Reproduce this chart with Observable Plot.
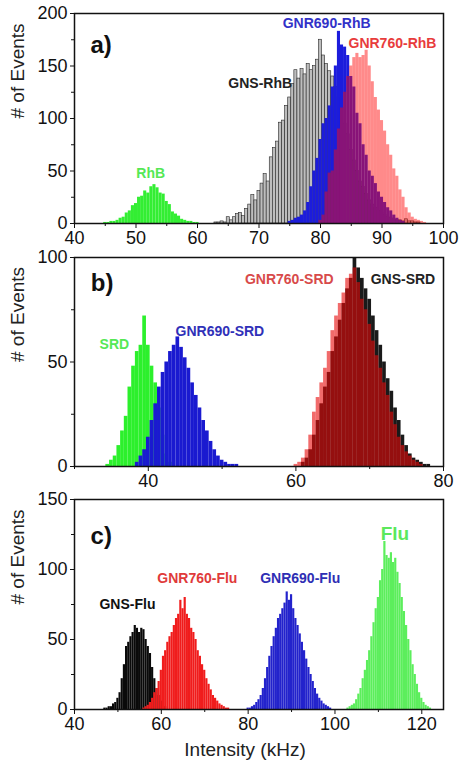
<!DOCTYPE html>
<html><head><meta charset="utf-8">
<script src="https://cdn.jsdelivr.net/npm/d3@7"></script>
<script src="https://cdn.jsdelivr.net/npm/@observablehq/plot@0.6"></script>
<style>body{margin:0;background:#fff;} #chart svg{display:block;}</style>
</head><body><div id="chart"></div>
<script>
// Bin width of all histograms (kHz); each series: first bin centre + counts
const binWidth = 0.5;

// Panel a) RhB
const rhbStart = 45;
const rhbCounts = [1,1,2,2,3,5,6,10,12,17,19,25,26,31,29,35,37,34,29,28,21,18,11,9,7,4,3,2,2,1,1];
const gnsRhbStart = 63;
const gnsRhbCounts = [1,1,2,1,6,3,6,9,10,7,14,18,27,22,31,38,47,40,63,72,78,96,98,112,120,133,146,138,147,142,152,146,150,156,175,160,152,145,140,130,120,110,95,85,70,60,50,40,35,28,22,18,15,12,10,8,6,5,4,3,3,2,4,2,2,1,1];
const gnr690RhbStart = 75;
const gnr690RhbCounts = [2,3,5,6,8,12,20,35,50,62,80,95,100,112,130,150,183,170,168,160,140,130,105,95,75,65,50,45,38,30,25,20,15,12,8,5,3,2];
const gnr760RhbStart = 80;
const gnr760RhbCounts = [3,8,30,48,50,70,90,110,125,140,150,158,162,158,160,165,150,135,120,108,98,88,75,65,52,45,32,25,15,10,6,4,3,2,1];

// Panel b) SRD
const srdStart = 34.5;
const srdCounts = [1,3,5,10,17,24,38,48,55,58,72,58,48,40,28,15,6,2];
const gnr690SrdStart = 38.5;
const gnr690SrdCounts = [2,5,8,14,22,30,38,45,50,55,58,62,57,52,47,40,34,28,22,17,12,8,5,3,2,1,1,1];
const gnsSrdStart = 61;
const gnsSrdCounts = [2,4,8,15,22,30,38,45,55,62,70,78,85,90,100,95,90,85,80,72,65,58,50,42,36,28,22,15,10,6,4,3,2,1,1];
const gnr760SrdStart = 60;
const gnr760SrdCounts = [1,2,4,8,15,26,33,40,47,55,65,72,78,83,90,92,95,88,80,75,68,60,53,47,40,34,26,20,14,10,7,5,3,2,1];

// Panel c) Flu
const gnsFluStart = 47;
const gnsFluCounts = [1,1,2,2,4,5,8,12,22,32,45,48,52,55,60,58,55,58,57,50,45,40,30,22,15,10,6,3,2];
const gnr760FluStart = 56;
const gnr760FluCounts = [1,2,3,5,8,12,15,20,28,38,42,48,52,55,60,65,68,78,72,80,68,65,58,55,50,42,38,32,28,22,18,14,10,8,6,4,3,2,1,1];
const gnr690FluStart = 80;
const gnr690FluCounts = [1,1,2,3,5,7,10,15,22,30,38,45,52,58,65,68,72,76,84,78,82,72,65,60,54,48,42,36,30,25,20,15,11,8,6,4,3,2,1];
const fluStart = 103;
const fluCounts = [1,2,3,4,7,11,15,22,28,35,42,52,62,72,80,92,100,120,110,108,112,105,108,98,90,80,70,60,50,42,32,25,18,12,8,5,3,2,1];

// Tick values
const aXTicks = [40,50,60,70,80,90,100], aXMinor = [45,55,65,75,85,95];
const aYTicks = [0,50,100,150,200], aYMinor = [25,75,125,175];
const bXTicks = [40,60,80], bXMinor = [30,50,70];
const bYTicks = [0,50,100], bYMinor = [25,75];
const cXTicks = [40,60,80,100,120], cXMinor = [50,70,90,110];
const cYTicks = [0,50,100,150], cYMinor = [25,75,125];

const hist = (start, counts) => counts.map((y, i) => ({x: start + i * binWidth, y}));
const bars = (start, counts, opts) => Plot.rect(hist(start, counts), {
  x1: d => d.x - binWidth / 2, x2: d => d.x + binWidth / 2, y1: 0, y2: "y", ...opts
});
const label = (text, x, y, fill, size = 14) => Plot.text([text], {x, y, text: d => d, fill, fontWeight: "bold", fontSize: size});
const panelLabel = (text, x, y) => Plot.text([text], {x, y, text: d => d, fill: "#111", fontWeight: "bold", fontSize: 24, textAnchor: "start"});
const axes = (xt, xm, yt, ym) => [
  Plot.axisX(xt, {tickSize: 5, tickPadding: 3, label: null, fontSize: 18}),
  Plot.axisX(xm, {tickSize: 3, tickFormat: () => "", label: null}),
  Plot.axisY(yt, {tickSize: 4, tickPadding: 3, label: null, fontSize: 18}),
  Plot.axisY(ym, {tickSize: 3, tickFormat: () => "", label: null}),
  Plot.frame({stroke: "#111", strokeWidth: 1.5}),
  Plot.text(["# of Events"], {frameAnchor: "left", dx: -57, rotate: -90, text: d => d, fontSize: 19, fill: "#222"})
];
const style = {fontFamily: "'Liberation Sans', Arial, sans-serif", fontSize: "18px", color: "#111", background: "#fff", overflow: "visible"};

const plotA = Plot.plot({
  width: 466, height: 248, marginLeft: 74, marginRight: 23, marginTop: 13, marginBottom: 25, style,
  x: {domain: [40, 100]}, y: {domain: [0, 200]},
  marks: [
    bars(rhbStart, rhbCounts, {fill: "#33ee33"}),
    bars(gnsRhbStart, gnsRhbCounts, {fill: "#bdbdbd", stroke: "#262626", strokeWidth: 0.6}),
    bars(gnr690RhbStart, gnr690RhbCounts, {fill: "#1c1cdc"}),
    bars(gnr760RhbStart, gnr760RhbCounts, {fill: "#ff0a0a", fillOpacity: 0.48}),
    ...axes(aXTicks, aXMinor, aYTicks, aYMinor),
    label("GNR690-RhB", 81, 190, "#3232c8"),
    label("GNR760-RhB", 91.7, 171.5, "#e83c3c"),
    label("GNS-RhB", 70.2, 133, "#222"),
    label("RhB", 52.4, 48, "#55e855"),
    panelLabel("a)", 42.6, 170)
  ]
});

const plotB = Plot.plot({
  width: 466, height: 242, marginLeft: 74, marginRight: 23, marginTop: 9, marginBottom: 24, style,
  x: {domain: [30, 80]}, y: {domain: [0, 100]},
  marks: [
    bars(srdStart, srdCounts, {fill: "#2cf02c"}),
    bars(gnr690SrdStart, gnr690SrdCounts, {fill: "#1a1ad0"}),
    bars(gnsSrdStart, gnsSrdCounts, {fill: "#1a1a1a"}),
    bars(gnr760SrdStart, gnr760SrdCounts, {fill: "#e80808", fillOpacity: 0.6}),
    ...axes(bXTicks, bXMinor, bYTicks, bYMinor),
    label("GNR760-SRD", 59.1, 89.5, "#d84a4a"),
    label("GNS-SRD", 74.5, 89.5, "#222"),
    label("SRD", 35.4, 58.4, "#55e855"),
    label("GNR690-SRD", 49.7, 64.6, "#3030b8"),
    panelLabel("b)", 32.2, 87.6)
  ]
});

const plotC = Plot.plot({
  width: 466, height: 280, marginLeft: 74, marginRight: 23, marginTop: 9, marginBottom: 61, style,
  x: {domain: [40, 125]}, y: {domain: [0, 150]},
  marks: [
    bars(gnsFluStart, gnsFluCounts, {fill: "#0a0a0a"}),
    bars(gnr760FluStart, gnr760FluCounts, {fill: "#f01c1c"}),
    bars(gnr690FluStart, gnr690FluCounts, {fill: "#2323cc"}),
    bars(fluStart, fluCounts, {fill: "#5cee5c"}),
    ...axes(cXTicks, cXMinor, cYTicks, cYMinor),
    Plot.text(["Intensity (kHz)"], {frameAnchor: "bottom", dx: -14, dy: 46, text: d => d, fontSize: 19, fill: "#222"}),
    label("GNS-Flu", 52.2, 75, "#111"),
    label("GNR760-Flu", 68.3, 93.6, "#e03a3a"),
    label("GNR690-Flu", 92, 93.6, "#2e2eb4"),
    label("Flu", 113.8, 125.7, "#5ce85c", 19),
    panelLabel("c)", 43.7, 124)
  ]
});

const chart = document.getElementById("chart");
chart.append(plotA, plotB, plotC);
</script></body></html>
